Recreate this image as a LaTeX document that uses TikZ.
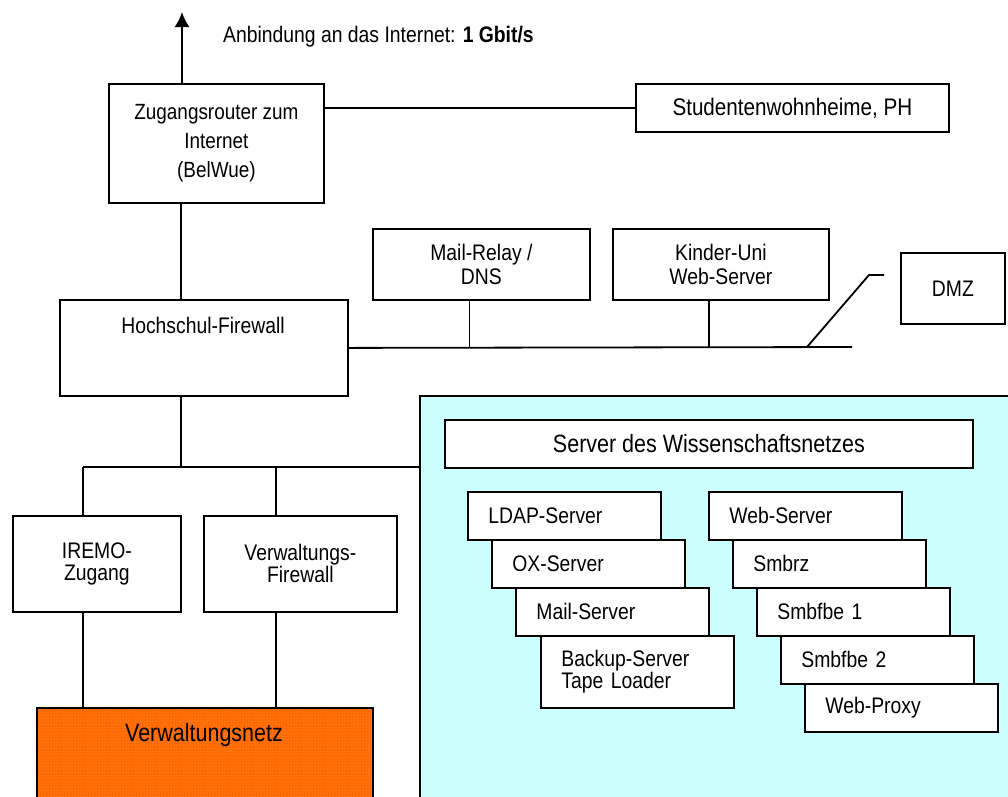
\documentclass[tikz,border=0pt]{standalone}
\usepackage{fontspec}
\setmainfont{Liberation Sans}[FakeStretch=0.86]
\usepackage{tikz}
\usetikzlibrary{calc, arrows.meta, patterns}
\tikzset{>=latex}
\definecolor{wisscyan}{RGB}{204,255,255}
\definecolor{verworange}{RGB}{255,106,0}
\definecolor{verwdots}{RGB}{255,165,100}
\tikzset{
  box/.style={draw, rectangle, line width=1.8pt, fill=white, anchor=north west, inner sep=0pt, align=center},
  srv/.style={box, align=left, text width=152pt, inner xsep=20.5pt, minimum height=48pt},
  wire/.style={line width=1.8pt},
  bigtext/.style={font=\fontsize{25}{27}\selectfont},
}

\begin{document}
\begin{tikzpicture}[x=1pt, y=-1pt, font=\fontsize{22.5}{24}\selectfont]
\useasboundingbox (0,0) rectangle (1008,796);

% Wissenschaftsnetz area, runs off the page
\node (wiss) [box, fill=wisscyan, minimum width=600pt, minimum height=420pt] at (419,395) {};
\node (vnetz) [box, fill=verworange, minimum width=336pt, minimum height=110pt,
  postaction={pattern=dots, pattern color=verwdots}, postaction={draw, line width=1.8pt}] at (36,707) {};
\node (vnetztext) [bigtext] at (204,735) {Verwaltungsnetz};

\node (router) [box, minimum width=215pt, minimum height=119pt, font=\fontsize{22}{29}\selectfont] at (108,83) {Zugangsrouter zum\\Internet\\(BelWue)};
\node (wohnheim) [box, minimum width=313pt, minimum height=48pt, font=\fontsize{24}{26}\selectfont] at (635,83) {Studentenwohnheime, PH};
\node (speed) [anchor=west, inner sep=0pt] at (223,37) {Anbindung an das Internet: \textbf{1 Gbit/s}};

\node (fw) [box, minimum width=288pt, minimum height=96pt] at (59,299) {};
\node (fwtext) at (203,325) {Hochschul-Firewall};

\node (relay) [box, minimum width=217pt, minimum height=71pt] at (372,228) {Mail-Relay /\\DNS};
\node (kinder) [box, minimum width=216pt, minimum height=71pt] at (612,228) {Kinder-Uni\\Web-Server};
\node (dmz) [box, minimum width=104pt, minimum height=71pt] at (900,252) {DMZ};

\node (iremo) [box, minimum width=168pt, minimum height=96pt, font=\fontsize{22.5}{22}\selectfont] at (12,515) {IREMO-\\Zugang};
\node (verwfw) [box, minimum width=193pt, minimum height=96pt, font=\fontsize{22.5}{22}\selectfont] at (203,515) {Verwaltungs-\\Firewall};

% server stacks
\node (wisshead) [box, bigtext, minimum width=528pt, minimum height=48pt] at (444,419) {Server des Wissenschaftsnetzes};
\foreach \name/\txt [count=\i from 0] in {ldap/LDAP-Server, ox/OX-Server, mail/Mail-Server}
  \node (\name) [srv] at (467+24*\i, 491+48*\i) {\txt};
\node (backup) [srv, minimum height=72pt, font=\fontsize{22.5}{22}\selectfont] at (540,635) {Backup-Server\\Tape Loader};
\foreach \name/\txt [count=\i from 0] in {web/Web-Server, smbrz/Smbrz, smbfbeA/Smbfbe 1, smbfbeB/Smbfbe 2, proxy/Web-Proxy}
  \node (\name) [srv] at (708+24*\i, 491+48*\i) {\txt};

% connections
\coordinate (trunk) at (181,0);
\coordinate (inet) at (182,12);
\coordinate (dmzend) at (852,347);
\coordinate (tap) at (807,347);
\coordinate (knee) at (869,275);
\coordinate (dropA) at (83,467);
\coordinate (dropB) at (276,467);

\draw[wire, -{Latex[length=15pt,width=15pt]}] (router.north -| inet) -- (inet);
\draw[wire] (router.east |- wohnheim.west) -- (wohnheim.west);
\draw[wire] (router.south -| trunk) -- (fw.north -| trunk);
\draw[wire] (fw.east) -- (dmzend);
\draw[wire] ([xshift=-12pt]relay.south) -- ([xshift=-12pt]relay.south |- fw.east);
\draw[wire] ([xshift=-12pt]kinder.south) -- ([xshift=-12pt]kinder.south |- fw.east);
\draw[wire] (tap) -- (knee) -- ++(15,0);

\draw[wire] (fw.south -| trunk) -- (trunk |- dropA);
\draw[wire] (dropA) -- (wiss.west |- dropA);
\draw[wire] (dropA) -- (dropA |- iremo.north);
\draw[wire] (dropB) -- (dropB |- verwfw.north);
\draw[wire] (dropA |- iremo.south) -- (dropA |- vnetz.north);
\draw[wire] (dropB |- verwfw.south) -- (dropB |- vnetz.north);
\end{tikzpicture}
\end{document}
